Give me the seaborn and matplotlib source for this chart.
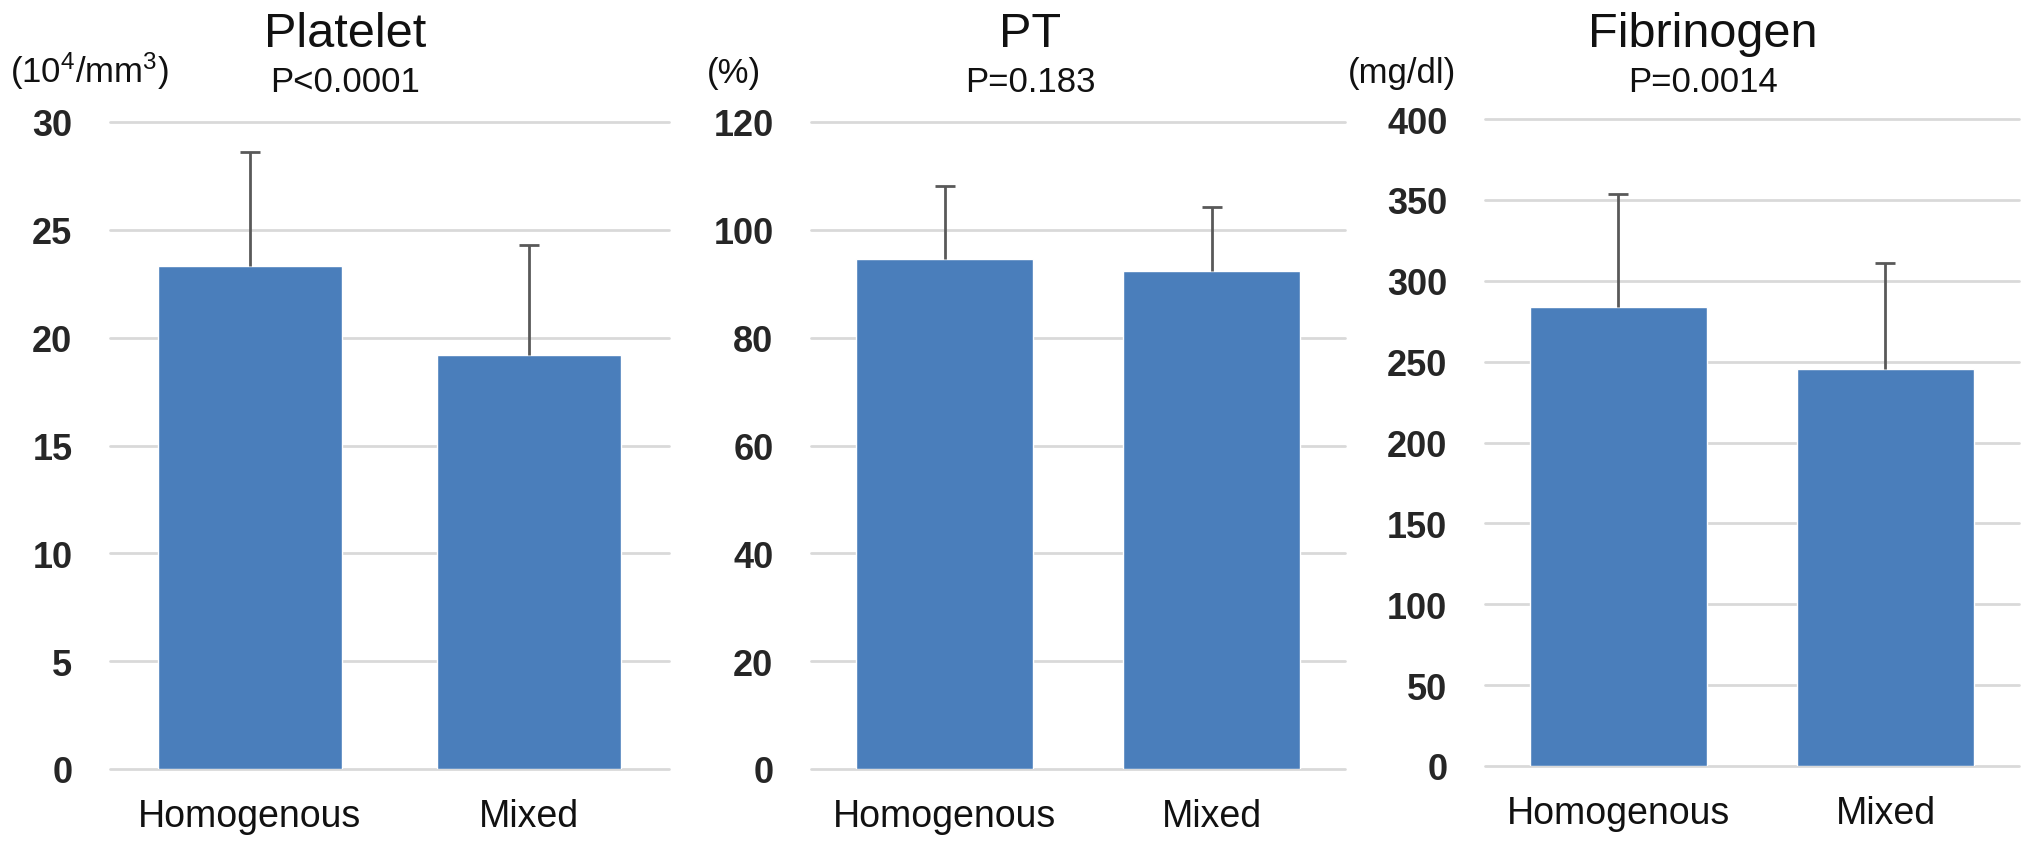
"""
Platelet / PT / Fibrinogen bar charts, Homogenous vs Mixed.
"""

import numpy as np
import pandas as pd
import matplotlib
matplotlib.use("Agg")
import matplotlib.pyplot as plt
import seaborn as sns

categories = ["Homogenous", "Mixed"]

platelet_mean = [23.3, 19.2]
platelet_sd = [5.3, 5.1]

pt_mean = [94.5, 92.4]
pt_sd = [13.7, 11.8]

fib_mean = [283.5, 245.5]
fib_sd = [70.0, 65.7]

titles = ["Platelet", "PT", "Fibrinogen"]
pvalues = ["P<0.0001", "P=0.183", "P=0.0014"]
units = [r"(10$^4$/mm$^3$)", "(%)", "(mg/dl)"]
ymax = [30, 120, 400]
ystep = [5, 20, 50]

sns.set_style("white")
plt.rcParams["font.family"] = ["Liberation Sans", "DejaVu Sans"]
plt.rcParams["mathtext.fontset"] = "custom"
plt.rcParams["mathtext.rm"] = "Liberation Sans"
plt.rcParams["mathtext.default"] = "regular"

W, H = 2031, 853
fig = plt.figure(figsize=(W / 100, H / 100), dpi=100)

# axes boxes in pixels: left, bottom(0 line), width, height
boxes = [(110, 770, 559, 647), (811, 770, 534, 647), (1485, 767, 534, 647)]
title_x = [345, 1030, 1703]
unit_x = [10, 707, 1348]

means = [platelet_mean, pt_mean, fib_mean]
sds = [platelet_sd, pt_sd, fib_sd]

for i in range(3):
    l, b, w, h = boxes[i]
    ax = fig.add_axes([l / W, 1 - b / H, w / W, h / H])
    df = pd.DataFrame({"group": categories, "value": means[i]})
    sns.barplot(data=df, x="group", y="value", color="#4a7ebb", saturation=1,
                width=0.66, errorbar=None, ax=ax, zorder=2)

    err = ax.errorbar([0, 1], means[i], yerr=[[0, 0], sds[i]], fmt="none",
                      ecolor="#595959", elinewidth=2, capsize=7, capthick=2,
                      zorder=3)
    # hide the lower caps (plus-only error bars)
    for cap in err[1]:
        if np.allclose(cap.get_ydata(), means[i]):
            cap.set_visible(False)

    ax.set_ylim(0, ymax[i])
    ax.set_yticks(np.arange(0, ymax[i] + 1, ystep[i]))
    ax.set_xlim(-0.5, 1.5)
    ax.set_axisbelow(True)
    ax.yaxis.grid(True, color="#d9d9d9", linewidth=2)
    ax.xaxis.grid(False)
    for line in ax.get_ygridlines():
        line.set_clip_on(False)
    for s in ax.spines.values():
        s.set_visible(False)
    ax.set_xlabel("")
    ax.set_ylabel("")
    ax.tick_params(axis="y", length=0, pad=27, labelsize=26, labelcolor="#262626")
    ax.tick_params(axis="x", length=0, pad=21, labelsize=27, labelcolor="#111111")
    for t in ax.get_yticklabels():
        t.set_fontweight("bold")

    fig.text(title_x[i] / W, 1 - 47 / H, titles[i], ha="center", va="baseline",
             fontsize=35, color="#111111")
    fig.text(title_x[i] / W, 1 - 92 / H, pvalues[i], ha="center", va="baseline",
             fontsize=25, color="#111111")
    fig.text(unit_x[i] / W, 1 - 83 / H, units[i], ha="left", va="baseline",
             fontsize=25, color="#111111")

fig.savefig("out.png", dpi=100)
